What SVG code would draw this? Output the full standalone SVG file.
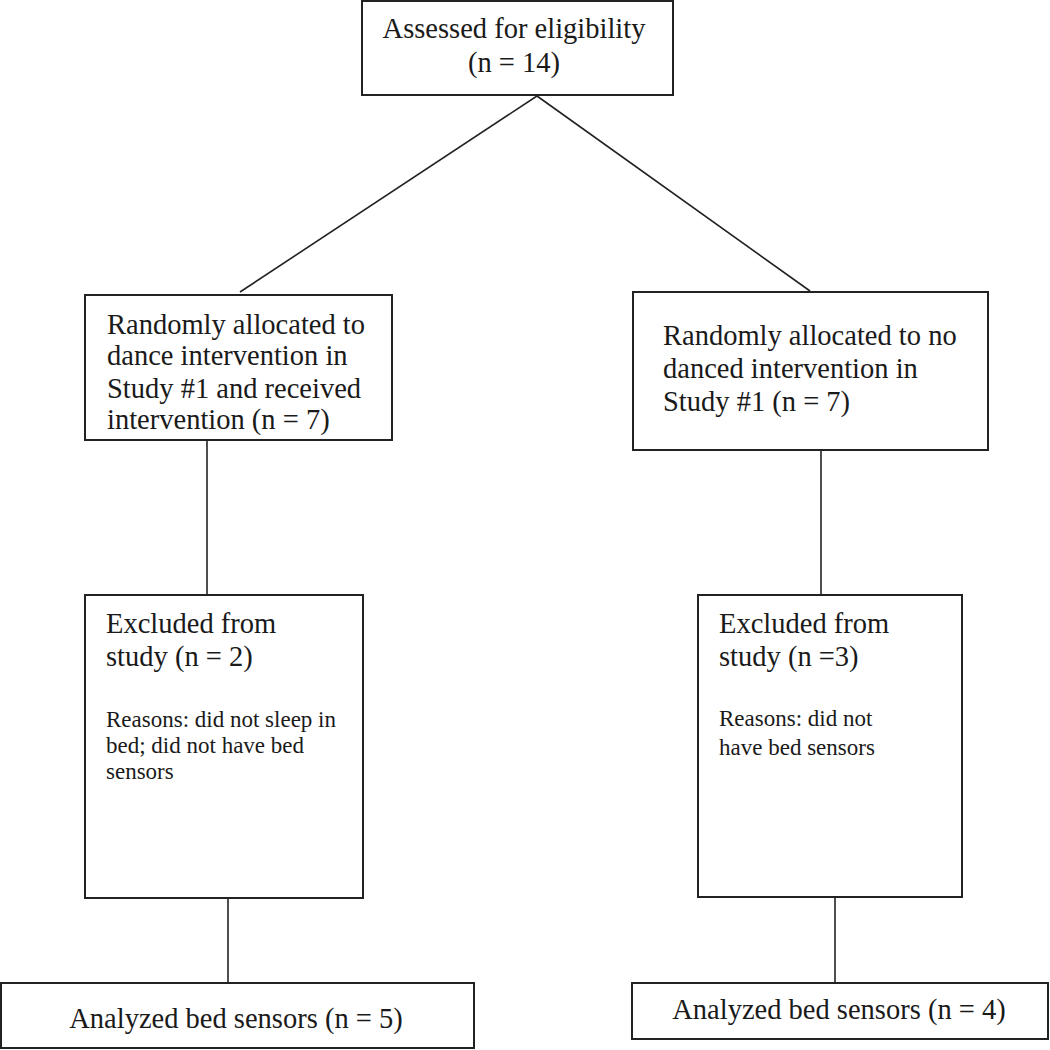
<svg xmlns="http://www.w3.org/2000/svg" width="1050" height="1050" viewBox="0 0 1050 1050">
<style>
.box{fill:#fff;stroke:#222;stroke-width:2}
.ln{stroke:#222;stroke-width:1.6;fill:none}
.t{font-family:"Liberation Serif","Times New Roman",serif;font-size:28.5px;fill:#1a1a1a}
.s{font-family:"Liberation Serif","Times New Roman",serif;font-size:23px;fill:#1a1a1a}
</style>
<rect width="1050" height="1050" fill="#fff"/>
<g id="connectors">
<line class="ln" x1="537" y1="96" x2="240" y2="292"/>
<line class="ln" x1="537" y1="96" x2="810" y2="291"/>
<line class="ln" x1="207" y1="440" x2="207" y2="595"/>
<line class="ln" x1="821" y1="450" x2="821" y2="595"/>
<line class="ln" x1="228" y1="898" x2="228" y2="983"/>
<line class="ln" x1="835" y1="897" x2="835" y2="983"/>
</g>
<g id="assessed">
<rect class="box" x="362" y="1" width="311" height="94"/>
<text class="t" x="514" y="38" text-anchor="middle">Assessed for eligibility</text>
<text class="t" x="514" y="72" text-anchor="middle">(n = 14)</text>
</g>
<g id="dance">
<rect class="box" x="85" y="295" width="307" height="145"/>
<text class="t" x="107" y="334">Randomly allocated to</text>
<text class="t" x="107" y="365">dance intervention in</text>
<text class="t" x="107" y="398">Study #1 and received</text>
<text class="t" x="107" y="429">intervention (n = 7)</text>
</g>
<g id="nodance">
<rect class="box" x="633" y="292" width="355" height="158"/>
<text class="t" x="663" y="345">Randomly allocated to no</text>
<text class="t" x="663" y="378">danced intervention in</text>
<text class="t" x="663" y="411">Study #1 (n = 7)</text>
</g>
<g id="excluded-left">
<rect class="box" x="85" y="595" width="278" height="303"/>
<text class="t" x="106" y="633">Excluded from</text>
<text class="t" x="106" y="666">study (n = 2)</text>
<text class="s" x="106" y="727">Reasons: did not sleep in</text>
<text class="s" x="106" y="753">bed; did not have bed</text>
<text class="s" x="106" y="779">sensors</text>
</g>
<g id="excluded-right">
<rect class="box" x="698" y="595" width="264" height="302"/>
<text class="t" x="719" y="633">Excluded from</text>
<text class="t" x="719" y="666">study (n =3)</text>
<text class="s" x="719" y="726">Reasons: did not</text>
<text class="s" x="719" y="755">have bed sensors</text>
</g>
<g id="analyzed-left">
<rect class="box" x="1" y="983" width="473" height="65"/>
<text class="t" x="236" y="1028" text-anchor="middle">Analyzed bed sensors (n = 5)</text>
</g>
<g id="analyzed-right">
<rect class="box" x="632" y="983" width="416" height="56"/>
<text class="t" x="839" y="1019" text-anchor="middle">Analyzed bed sensors (n = 4)</text>
</g>
</svg>
